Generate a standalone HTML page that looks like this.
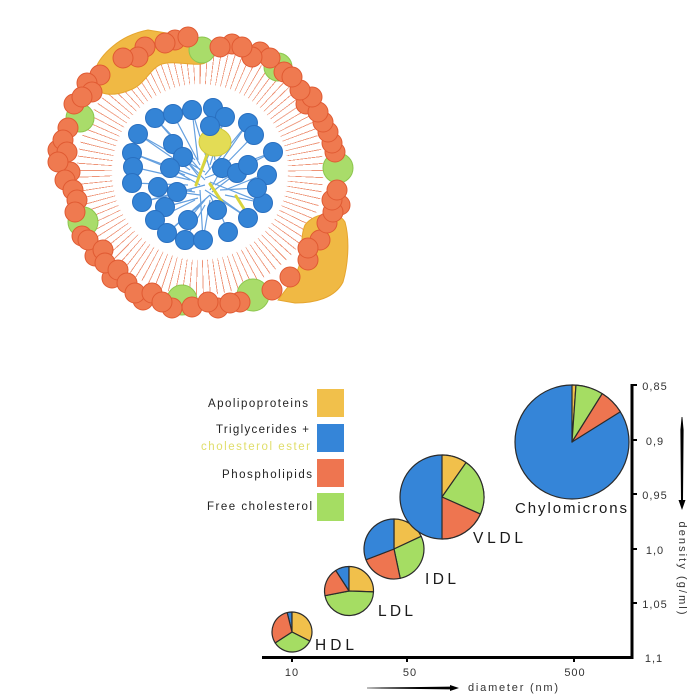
<!DOCTYPE html>
<html><head><meta charset="utf-8">
<style>
html,body{margin:0;padding:0;background:#fff;}
#wrap{position:relative;width:700px;height:700px;overflow:hidden;background:#fff;}
#tails{position:absolute;left:75px;top:47px;width:250px;height:250px;border-radius:50%;
background:repeating-conic-gradient(from 0deg, rgba(232,112,74,0.75) 0deg 0.45deg, rgba(255,255,255,0) 0.45deg 3.3deg);
-webkit-mask-image:radial-gradient(circle closest-side, transparent 70%, #000 71%, #000 98%, transparent 99%);
mask-image:radial-gradient(circle closest-side, transparent 70%, #000 71%, #000 98%, transparent 99%);}
svg{position:absolute;left:0;top:0;}
text{font-family:"Liberation Sans",sans-serif;}
</style></head><body><div id="wrap">
<div id="tails"></div>
<svg width="700" height="700" viewBox="0 0 700 700">
<!-- apolipoprotein blobs -->
<path d="M95,70 C100,55 120,35 148,30 L185,36 C198,40 207,52 205,63 C195,67 175,60 162,64 C150,68 145,85 130,90 C118,95 103,97 95,88 Z" fill="#f0b944" stroke="#e6a52e" stroke-width="1"/>
<path d="M305,225 C315,212 338,210 345,222 C350,240 348,265 343,282 C335,298 315,303 295,303 L278,300 C285,290 297,278 300,262 C303,250 300,237 305,225 Z" fill="#f0b944" stroke="#e6a52e" stroke-width="1"/>

<!-- blue tails in core -->
<g stroke="#4b90da" stroke-width="1.2" fill="none" opacity="0.85">
<path d="M155,118 L195,160 M173,114 L200,165 M192,110 L198,160 M213,108 L205,160 M225,117 L210,165 M210,126 L215,160 M248,123 L215,170 M254,135 L220,170 M273,152 L222,178 M138,134 L190,170 M173,144 L200,178 M183,157 L205,180 M132,153 L185,175 M133,167 L190,180 M170,168 L200,185 M222,168 L210,190 M237,173 L212,192 M248,165 L215,185 M267,173 L225,190 M132,183 L188,185 M142,202 L192,190 M158,187 L195,192 M177,192 L200,195 M165,207 L198,198 M155,220 L195,200 M167,233 L200,205 M185,240 L205,205 M203,240 L210,200 M188,220 L205,200 M217,210 L210,195 M228,232 L215,200 M248,218 L220,198 M263,203 L225,195 M257,188 L220,190"/>
<path d="M155,118 L200,170 M192,110 L210,170 M248,123 L205,175 M138,134 L205,172 M132,153 L200,178 M142,202 L205,185 M167,233 L210,195 M203,240 L200,190 M248,218 L205,190 M263,203 L210,182 M273,152 L205,178 M225,117 L200,175"/>
</g>
<!-- yellow core bits -->
<g stroke="#d9d43c" stroke-width="3" fill="none" stroke-linecap="round">
<path d="M208,152 L196,185"/><path d="M210,184 L222,202"/><path d="M236,196 L246,212"/>
</g>
<ellipse cx="215" cy="142" rx="16" ry="14" fill="#e3dc55" stroke="#d2c93a" stroke-width="1"/>
<!-- blue core circles -->
<g fill="#3484d6" stroke="#2a70c0" stroke-width="1">
<circle cx="155" cy="118" r="9.5"/><circle cx="173" cy="114" r="9.5"/><circle cx="192" cy="110" r="9.5"/><circle cx="213" cy="108" r="9.5"/><circle cx="225" cy="117" r="9.5"/><circle cx="210" cy="126" r="9.5"/><circle cx="248" cy="123" r="9.5"/><circle cx="254" cy="135" r="9.5"/><circle cx="273" cy="152" r="9.5"/><circle cx="138" cy="134" r="9.5"/><circle cx="173" cy="144" r="9.5"/><circle cx="183" cy="157" r="9.5"/><circle cx="132" cy="153" r="9.5"/><circle cx="133" cy="167" r="9.5"/><circle cx="170" cy="168" r="9.5"/><circle cx="222" cy="168" r="9.5"/><circle cx="237" cy="173" r="9.5"/><circle cx="248" cy="165" r="9.5"/><circle cx="267" cy="175" r="9.5"/><circle cx="132" cy="183" r="9.5"/><circle cx="142" cy="202" r="9.5"/><circle cx="158" cy="187" r="9.5"/><circle cx="177" cy="192" r="9.5"/><circle cx="165" cy="207" r="9.5"/><circle cx="155" cy="220" r="9.5"/><circle cx="167" cy="233" r="9.5"/><circle cx="185" cy="240" r="9.5"/><circle cx="203" cy="240" r="9.5"/><circle cx="188" cy="220" r="9.5"/><circle cx="217" cy="210" r="9.5"/><circle cx="228" cy="232" r="9.5"/><circle cx="248" cy="218" r="9.5"/><circle cx="263" cy="203" r="9.5"/><circle cx="257" cy="188" r="9.5"/>
</g>
<!-- green free cholesterol -->
<g fill="#a9dc6a" stroke="#8cc64e" stroke-width="1">
<circle cx="202" cy="50" r="13"/><circle cx="278" cy="67" r="14"/><circle cx="80" cy="118" r="14"/><circle cx="338" cy="168" r="15"/><circle cx="83" cy="222" r="15"/><circle cx="182" cy="300" r="15"/><circle cx="253" cy="295" r="16"/>
</g>
<!-- phospholipid heads -->
<g fill="#ef7a50" stroke="#e05a32" stroke-width="1">
<circle cx="175" cy="40" r="10"/><circle cx="232" cy="44" r="10"/><circle cx="260" cy="52" r="10"/><circle cx="284" cy="72" r="10"/><circle cx="306" cy="104" r="10"/><circle cx="74" cy="104" r="10"/><circle cx="58" cy="150" r="10"/><circle cx="70" cy="172" r="10"/><circle cx="82" cy="236" r="10"/><circle cx="95" cy="256" r="10"/><circle cx="112" cy="278" r="10"/><circle cx="143" cy="300" r="10"/><circle cx="172" cy="308" r="10"/><circle cx="218" cy="308" r="10"/><circle cx="240" cy="302" r="10"/><circle cx="340" cy="205" r="10"/><circle cx="320" cy="240" r="10"/>
<circle cx="165" cy="43" r="10"/><circle cx="145" cy="47" r="10"/><circle cx="138" cy="57" r="10"/><circle cx="123" cy="58" r="10"/><circle cx="100" cy="75" r="10"/><circle cx="87" cy="83" r="10"/><circle cx="92" cy="92" r="10"/><circle cx="82" cy="97" r="10"/><circle cx="68" cy="128" r="10"/><circle cx="63" cy="140" r="10"/><circle cx="67" cy="152" r="10"/><circle cx="58" cy="162" r="10"/><circle cx="65" cy="180" r="10"/><circle cx="73" cy="190" r="10"/><circle cx="77" cy="200" r="10"/><circle cx="75" cy="212" r="10"/><circle cx="88" cy="240" r="10"/><circle cx="103" cy="250" r="10"/><circle cx="105" cy="263" r="10"/><circle cx="118" cy="270" r="10"/><circle cx="127" cy="283" r="10"/><circle cx="135" cy="293" r="10"/><circle cx="152" cy="293" r="10"/><circle cx="162" cy="302" r="10"/><circle cx="192" cy="307" r="10"/><circle cx="208" cy="302" r="10"/><circle cx="230" cy="303" r="10"/><circle cx="272" cy="290" r="10"/><circle cx="290" cy="277" r="10"/><circle cx="308" cy="260" r="10"/><circle cx="308" cy="248" r="10"/><circle cx="327" cy="223" r="10"/><circle cx="333" cy="212" r="10"/><circle cx="332" cy="200" r="10"/><circle cx="337" cy="190" r="10"/><circle cx="335" cy="152" r="10"/><circle cx="332" cy="143" r="10"/><circle cx="328" cy="132" r="10"/><circle cx="323" cy="122" r="10"/><circle cx="318" cy="112" r="10"/><circle cx="312" cy="97" r="10"/><circle cx="300" cy="90" r="10"/><circle cx="292" cy="77" r="10"/><circle cx="270" cy="58" r="10"/><circle cx="252" cy="57" r="10"/><circle cx="242" cy="47" r="10"/><circle cx="220" cy="47" r="10"/><circle cx="188" cy="37" r="10"/>
</g>

<!-- legend -->
<g font-size="11.5" fill="#222">
<text x="208" y="407" textLength="100" lengthAdjust="spacing">Apolipoproteins</text>
<text x="216" y="433" textLength="93" lengthAdjust="spacing">Triglycerides +</text>
<text x="201" y="450" textLength="109" lengthAdjust="spacing" fill="#e0de6a">cholesterol ester</text>
<text x="222" y="478" textLength="90" lengthAdjust="spacing">Phospholipids</text>
<text x="207" y="510" textLength="105" lengthAdjust="spacing">Free cholesterol</text>
</g>
<rect x="317" y="389" width="27" height="28" fill="#f1c04b"/>
<rect x="317" y="424" width="27" height="28" fill="#3585d8"/>
<rect x="317" y="459" width="27" height="28" fill="#ee7550"/>
<rect x="317" y="493" width="27" height="28" fill="#a5dd63"/>

<!-- pies -->
<g stroke="#2b2b2b" stroke-width="1.2" stroke-linejoin="round">
<path d="M292,632 L287.16,612.59 A20 20 0 0 1 292,612 Z" fill="#3585d8"/>
<path d="M292,632 L292,612 A20 20 0 0 1 309.82,641.08 Z" fill="#f1c04b"/>
<path d="M292,632 L309.82,641.08 A20 20 0 0 1 275.23,642.89 Z" fill="#a5dd63"/>
<path d="M292,632 L275.23,642.89 A20 20 0 0 1 287.16,612.59 Z" fill="#ee7550"/>
<path d="M349,591 L335.66,570.45 A24.5 24.5 0 0 1 349,566.5 Z" fill="#3585d8"/>
<path d="M349,591 L349,566.5 A24.5 24.5 0 0 1 373.49,591.85 Z" fill="#f1c04b"/>
<path d="M349,591 L373.49,591.85 A24.5 24.5 0 0 1 324.95,595.67 Z" fill="#a5dd63"/>
<path d="M349,591 L324.95,595.67 A24.5 24.5 0 0 1 335.66,570.45 Z" fill="#ee7550"/>
<path d="M394,549 L394,519 A30 30 0 0 1 421.19,536.32 Z" fill="#f1c04b"/>
<path d="M394,549 L421.19,536.32 A30 30 0 0 1 400.24,578.34 Z" fill="#a5dd63"/>
<path d="M394,549 L400.24,578.34 A30 30 0 0 1 365.99,559.75 Z" fill="#ee7550"/>
<path d="M394,549 L365.99,559.75 A30 30 0 0 1 394,519 Z" fill="#3585d8"/>
<circle cx="442" cy="497" r="42" fill="#3585d8"/>
<path d="M442,497 L442,455 A42 42 0 0 1 466.09,462.59 Z" fill="#f1c04b"/>
<path d="M442,497 L466.09,462.59 A42 42 0 0 1 480.37,514.08 Z" fill="#a5dd63"/>
<path d="M442,497 L480.37,514.08 A42 42 0 0 1 442,539 Z" fill="#ee7550"/>
<circle cx="572" cy="442" r="57" fill="#3585d8"/>
<path d="M572,442 L572,385 A57 57 0 0 1 575.98,385.14 Z" fill="#f1c04b"/>
<path d="M572,442 L575.98,385.14 A57 57 0 0 1 602.2,393.66 Z" fill="#a5dd63"/>
<path d="M572,442 L602.2,393.66 A57 57 0 0 1 620.34,411.8 Z" fill="#ee7550"/>
</g>

<!-- pie labels -->
<g font-size="15.5" fill="#1a1a1a">
<text x="315" y="650" textLength="39" lengthAdjust="spacing">HDL</text>
<text x="378" y="616" textLength="35" lengthAdjust="spacing">LDL</text>
<text x="425" y="584" textLength="31" lengthAdjust="spacing">IDL</text>
<text x="473" y="543" textLength="50" lengthAdjust="spacing">VLDL</text>
<text x="515" y="513" font-size="15" textLength="112" lengthAdjust="spacing">Chylomicrons</text>
</g>

<!-- axes -->
<g stroke="#000" fill="none">
<line x1="262" y1="657.5" x2="633.5" y2="657.5" stroke-width="3"/>
<line x1="632" y1="384" x2="632" y2="659" stroke-width="3"/>
<g stroke-width="2">
<line x1="632" y1="385" x2="637" y2="385"/>
<line x1="632" y1="440" x2="637" y2="440"/>
<line x1="632" y1="494" x2="637" y2="494"/>
<line x1="632" y1="549" x2="637" y2="549"/>
<line x1="632" y1="603" x2="637" y2="603"/>
<line x1="292" y1="657" x2="292" y2="662"/>
<line x1="407" y1="657" x2="407" y2="662"/>
<line x1="574" y1="657" x2="574" y2="662"/>
</g>
</g>
<g font-size="11" fill="#333" text-anchor="middle" letter-spacing="1">
<text x="655" y="390">0,85</text>
<text x="655" y="445">0,9</text>
<text x="655" y="499">0,95</text>
<text x="655" y="554">1,0</text>
<text x="655" y="608">1,05</text>
<text x="654" y="662">1,1</text>
<text x="292" y="676">10</text>
<text x="410" y="676">50</text>
<text x="575" y="676">500</text>
</g>
<text x="468" y="691" font-size="11" fill="#333" textLength="90" lengthAdjust="spacing">diameter (nm)</text>
<text transform="translate(679,568) rotate(90)" font-size="11" fill="#333" text-anchor="middle" textLength="93" lengthAdjust="spacing">density (g/ml)</text>

<!-- arrows -->
<polygon points="367,687.7 450,686.6 450,685 459,688 450,691 450,689.4 367,688.3" fill="#000"/>
<polygon points="681.6,417 682.4,417 683.6,430 683,500 685.5,500 682,510 678.5,500 681,500 680.4,430" fill="#000"/>
</svg>
</div></body></html>
